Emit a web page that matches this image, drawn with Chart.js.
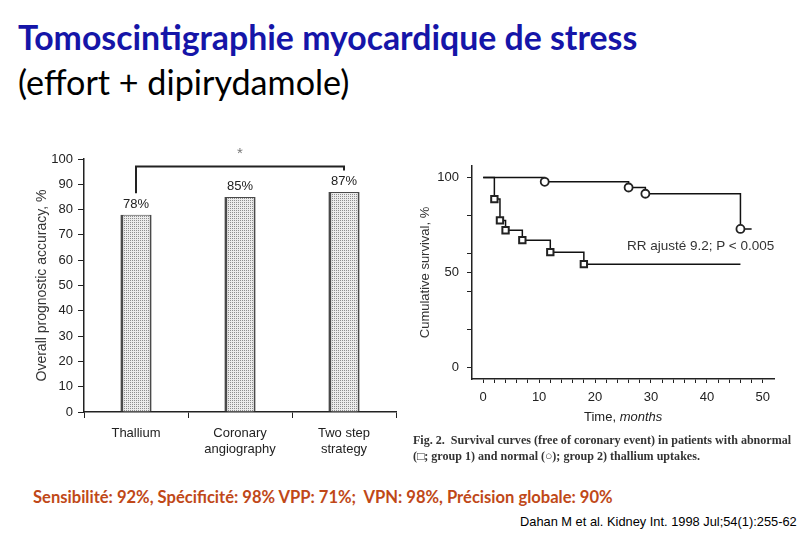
<!DOCTYPE html>
<html>
<head>
<meta charset="utf-8">
<script src="https://cdn.jsdelivr.net/npm/chart.js@4/dist/chart.umd.min.js"></script>
<style>
body{margin:0;width:810px;height:540px;background:#fff;position:relative;overflow:hidden;font-family:"Liberation Sans",Arial,sans-serif}
.t{position:absolute;white-space:nowrap}
.box{position:absolute}
</style>
</head>
<body>
<div class="t fit" data-w="619" style="left:18px;top:17px;font-family:Lato,sans-serif;font-size:29px;font-weight:bold;color:#1515a8">Tomoscintigraphie myocardique de stress</div>
<div class="t fit" data-w="332" style="left:18px;top:61px;font-family:Lato,sans-serif;font-size:29px;color:#000">(effort + dipirydamole)</div>

<div class="box" style="left:0;top:140px;width:410px;height:325px"><canvas id="bars"></canvas></div>
<div class="box" style="left:410px;top:160px;width:400px;height:270px"><canvas id="km"></canvas></div>

<div class="t" style="left:627px;top:238px;font-size:13.5px;color:#333">RR ajusté 9.2; P &lt; 0.005</div>
<div class="t" style="left:584px;top:409px;font-size:13px;color:#222">Time, <i>months</i></div>
<div class="t fit" data-w="379" style="left:413px;top:432px;font-family:'Liberation Serif',serif;font-weight:bold;font-size:11.5px;line-height:16px;color:#333">Fig. 2.&nbsp; Survival curves (free of coronary event) in patients with abnormal<br>(&#9633;; group 1) and normal (&#9675;); group 2) thallium uptakes.</div>

<div class="t fit" data-w="580" style="left:33px;top:487px;font-family:Lato,sans-serif;font-weight:bold;font-size:15px;color:#c04818">Sensibilité: 92%, Spécificité: 98% VPP: 71%;&nbsp; VPN: 98%, Précision globale: 90%</div>
<div class="t fit" data-w="277" style="left:520px;top:514px;font-family:'Liberation Sans Narrow','Liberation Sans',sans-serif;font-size:12px;color:#000">Dahan M et al. Kidney Int. 1998 Jul;54(1):255-62</div>

<script>
// left panel: overall prognostic accuracy
const barCategories = ['Thallium', ['Coronary', 'angiography'], ['Two step', 'strategy']];
const barValues = [78, 85, 87];
const barLabels = ['78%', '85%', '87%'];
const bracketTop = 97;
const bracketEnds = [86.5, 95.5];
const starLevel = 102;

// right panel: survival curves
const group1Months = [0, 2, 3, 4, 7, 12, 18, 46];
const group1Survival = [100, 88.6, 77.4, 72.2, 67, 60.7, 54.4, 54.4];
const group2Months = [0, 11, 26, 29, 46, 48];
const group2Survival = [100, 97.7, 94.7, 91.4, 72.9, 72.9];
const timeTickMarks = [0, 2, 4, 6, 8, 10, 12, 14, 16, 18, 20, 22, 24, 26, 28, 30, 32, 34, 36, 38, 40, 42, 44, 46, 48, 50];
const timeTickLabels = [0, 10, 20, 30, 40, 50];
const survivalTickMarks = [0, 20, 40, 50, 60, 80, 100];
const survivalTickLabels = [0, 50, 100];

const arial = "'Liberation Sans', Arial, sans-serif";

// size text blocks to the widths in the slide
document.querySelectorAll('.fit').forEach(el => {
  const fs = parseFloat(el.style.fontSize);
  el.style.fontSize = (fs * el.dataset.w / el.offsetWidth).toFixed(2) + 'px';
});

// dotted fill for the bars
const pat = document.createElement('canvas');
pat.width = 2; pat.height = 2;
const pc = pat.getContext('2d');
pc.fillStyle = '#ececec'; pc.fillRect(0, 0, 2, 2);
pc.fillStyle = '#8e8e8e'; pc.fillRect(0, 0, 1, 1);
const dotted = pc.createPattern(pat, 'repeat');

// no label-based padding, the plot areas are placed by hand
const noPad = s => { s.paddingTop = 0; s.paddingBottom = 0; s.paddingLeft = 0; s.paddingRight = 0; };

const barExtras = {
  id: 'barExtras',
  afterDatasetsDraw(chart) {
    const {ctx, scales: {x, y}} = chart;
    const meta = chart.getDatasetMeta(0);
    ctx.save();
    ctx.fillStyle = '#222';
    ctx.font = '13px ' + arial;
    ctx.textAlign = 'center';
    ctx.textBaseline = 'bottom';
    meta.data.forEach((bar, i) => ctx.fillText(barLabels[i], bar.x, bar.y - 4));
    const x0 = x.getPixelForValue(0), x2 = x.getPixelForValue(2);
    ctx.strokeStyle = '#222';
    ctx.lineWidth = 2;
    ctx.beginPath();
    ctx.moveTo(x0, y.getPixelForValue(bracketEnds[0]));
    ctx.lineTo(x0, y.getPixelForValue(bracketTop));
    ctx.lineTo(x2, y.getPixelForValue(bracketTop));
    ctx.lineTo(x2, y.getPixelForValue(bracketEnds[1]));
    ctx.stroke();
    ctx.textBaseline = 'middle';
    ctx.fillStyle = '#777';
    ctx.font = '15px ' + arial;
    ctx.fillText('*', x.getPixelForValue(1), y.getPixelForValue(starLevel));
    ctx.restore();
  }
};

new Chart(document.getElementById('bars'), {
  type: 'bar',
  data: {
    labels: barCategories,
    datasets: [{
      data: barValues,
      backgroundColor: dotted,
      borderColor: '#4a4a4a',
      borderWidth: {left: 3, right: 2, top: 1, bottom: 0},
      borderSkipped: false,
      barPercentage: 0.3,
      categoryPercentage: 1
    }]
  },
  options: {
    responsive: true,
    maintainAspectRatio: false,
    animation: false,
    layout: {padding: {top: 19, right: 14, left: 0, bottom: 0}},
    plugins: {legend: {display: false}, tooltip: {enabled: false}},
    scales: {
      x: {
        afterFit: s => { s.height = 53; noPad(s); },
        grid: {drawOnChartArea: false, tickLength: 6, color: '#222', offset: true},
        border: {color: '#222', width: 1.5},
        ticks: {color: '#222', font: {size: 13, family: arial}, padding: 8, maxRotation: 0}
      },
      y: {
        min: 0, max: 100,
        afterFit: s => { s.width = 84; noPad(s); },
        grid: {drawOnChartArea: false, tickLength: 6, color: '#222'},
        border: {color: '#222', width: 1.5},
        ticks: {stepSize: 10, color: '#222', font: {size: 13, family: arial}, padding: 5},
        title: {display: true, text: 'Overall prognostic accuracy, %', color: '#333',
                font: {size: 14, family: arial}, padding: {top: 34, bottom: 0}}
      }
    }
  },
  plugins: [barExtras]
});

new Chart(document.getElementById('km'), {
  type: 'scatter',
  data: {
    datasets: [{
      data: group1Months.map((m, i) => ({x: m, y: group1Survival[i]})),
      showLine: true,
      stepped: 'before',
      borderColor: '#111',
      borderWidth: 1.5,
      pointStyle: 'rect',
      pointRadius: group1Months.map((m, i) => (i === 0 || i === group1Months.length - 1) ? 0 : 4.5),
      pointBackgroundColor: '#fff',
      pointBorderColor: '#222',
      pointBorderWidth: 2
    }, {
      data: group2Months.map((m, i) => ({x: m, y: group2Survival[i]})),
      showLine: true,
      stepped: 'before',
      borderColor: '#111',
      borderWidth: 1.5,
      pointStyle: 'circle',
      pointRadius: group2Months.map((m, i) => (i === 0 || i === group2Months.length - 1) ? 0 : 4),
      pointBackgroundColor: '#fff',
      pointBorderColor: '#222',
      pointBorderWidth: 1.8
    }]
  },
  options: {
    responsive: true,
    maintainAspectRatio: false,
    animation: false,
    layout: {padding: {top: 6, right: 36, left: 0, bottom: 0}},
    plugins: {legend: {display: false}, tooltip: {enabled: false}},
    scales: {
      x: {
        type: 'linear', min: -2, max: 52,
        afterFit: s => { s.height = 51; noPad(s); },
        afterBuildTicks: s => { s.ticks = timeTickMarks.map(v => ({value: v})); },
        grid: {drawOnChartArea: false, tickLength: 4, color: '#222'},
        border: {color: '#222', width: 1.5},
        ticks: {autoSkip: false, maxRotation: 0, color: '#222', font: {size: 13, family: arial}, padding: 7,
                callback: v => timeTickLabels.includes(v) ? String(v) : ''}
      },
      y: {
        min: -6, max: 106,
        afterFit: s => { s.width = 62; noPad(s); },
        afterBuildTicks: s => { s.ticks = survivalTickMarks.map(v => ({value: v})); },
        grid: {drawOnChartArea: false, tickLength: 5, color: '#222'},
        border: {color: '#222', width: 1.5},
        ticks: {autoSkip: false, color: '#222', font: {size: 13, family: arial}, padding: 8,
                callback: v => survivalTickLabels.includes(v) ? String(v) : ''},
        title: {display: true, text: 'Cumulative survival, %', color: '#333',
                font: {size: 13, family: arial}, padding: {top: 8, bottom: 0}}
      }
    }
  }
});
</script>
</body>
</html>
